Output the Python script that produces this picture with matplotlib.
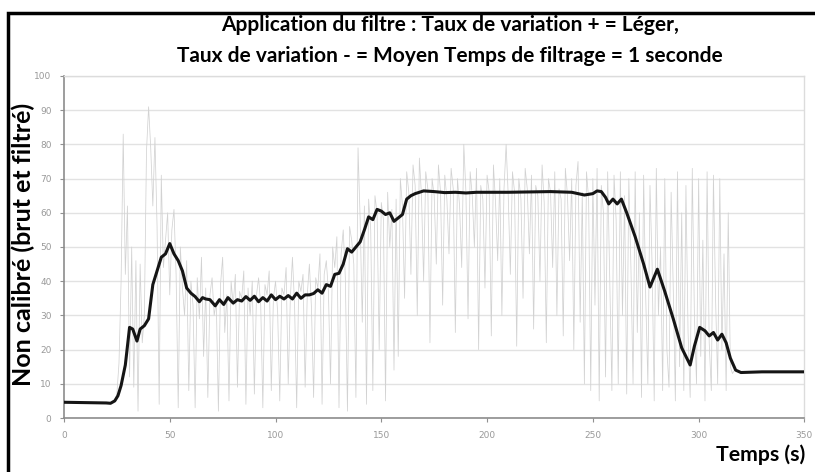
import numpy as np
import matplotlib
matplotlib.use('Agg')
import matplotlib.pyplot as plt
from matplotlib.patches import Rectangle

# raw signal, one sample per second from t = 24 s to t = 317 s
raw_start = 24
raw_values = [
    5, 7, 16, 40, 83, 42,
    62, 12, 50, 9, 46, 2, 45, 22, 30, 78,
    91, 79, 62, 82, 56, 4, 71, 44, 52, 60,
    36, 55, 61, 42, 3, 50, 38, 30, 46, 8,
    40, 33, 3, 41, 29, 47, 18, 38, 6, 36,
    41, 30, 34, 2, 39, 47, 25, 36, 5, 40,
    33, 42, 9, 37, 35, 43, 4, 38, 30, 40,
    7, 36, 41, 33, 3, 39, 36, 43, 8, 35,
    40, 31, 5, 38, 36, 44, 10, 35, 47, 33,
    3, 40, 37, 42, 9, 36, 45, 32, 6, 41,
    38, 48, 4, 42, 46, 37, 10, 50, 44, 53,
    3, 48, 55, 41, 2, 56, 52, 45, 6, 79,
    58, 28, 62, 4, 64, 55, 8, 65, 60, 20,
    63, 58, 5, 66, 50, 61, 14, 64, 18, 70,
    62, 35, 72, 66, 42, 74, 68, 30, 76, 65,
    40, 72, 67, 22, 70, 65, 45, 74, 66, 33,
    71, 64, 48, 73, 67, 25, 70, 62, 44, 80,
    66, 29, 72, 65, 50, 73, 20, 68, 64, 38,
    71, 66, 24, 74, 63, 46, 70, 30, 67, 80,
    65, 42, 72, 66, 21, 70, 64, 35, 73, 67,
    48, 71, 26, 68, 65, 40, 74, 63, 22, 70,
    66, 44, 72, 30, 67, 64, 24, 73, 65, 46,
    70, 20, 68, 75, 28, 66, 10, 72, 64, 8,
    70, 33, 73, 5, 68, 60, 12, 72, 40, 8,
    71, 58, 10, 72, 30, 65, 7, 70, 44, 10,
    72, 25, 60, 6, 71, 35, 10, 68, 45, 5,
    73, 30, 50, 8, 70, 20, 9, 66, 38, 5,
    72, 15, 60, 8, 68, 25, 6, 73, 30, 10,
    70, 18, 52, 5, 72, 22, 8, 71, 35, 10,
    70, 20, 48, 8, 60, 15, 13, 14,
]

# filtered signal
filt_t = [0, 10, 20, 22, 24, 25.5, 27, 29, 31, 32.5, 34.5, 36, 38, 40, 42, 44,
          46, 48, 50, 52, 54, 56, 58, 60, 62, 64, 65.5, 67, 69, 71.5, 73.5,
          75.5, 77.5, 80, 82, 84, 86, 88, 90, 92, 94, 96, 98, 100, 102, 104,
          106, 108, 110, 112, 114, 116, 118, 120, 122, 124, 126, 128, 130,
          132, 134, 136, 138, 140, 142, 144, 146, 148, 150, 152, 154, 156,
          158, 160, 162, 164, 166, 170, 175, 180, 185, 190, 195, 200, 210,
          220, 230, 240, 246, 250, 252, 254, 256, 257.5, 259.5, 261.5, 263.5,
          266, 270, 274, 277, 280.5, 284, 288, 292, 296, 298, 300.5, 303,
          305, 307, 309, 311, 313, 315, 317.5, 320, 330, 350]
filt_v = [4.6, 4.5, 4.4, 4.3, 5.0, 6.5, 9.5, 15.5, 26.5, 26, 22.5, 26, 27, 29,
          39, 43, 47, 48, 51, 48, 46, 43, 38, 36.5, 35.5, 34, 35.2, 34.8, 34.6,
          32.8, 34.6, 33.2, 35.2, 33.6, 34.6, 34.2, 35.5, 34.4, 35.6, 34, 35.2,
          34.2, 36, 34.6, 35.6, 34.8, 35.8, 34.8, 36.5, 35, 36, 36, 36.4, 37.5,
          36.5, 39, 38.5, 42, 42.3, 45, 49.5, 48.5, 50, 51.5, 55, 58.8, 58, 61,
          60.5, 59.5, 60, 57.5, 58.5, 59.5, 64, 65, 65.6, 66.4, 66.2, 65.9, 66,
          65.8, 66, 66, 66, 66.1, 66.2, 66, 65.2, 65.6, 66.4, 66.2, 64.5, 62.6,
          64, 62.6, 64, 60, 53, 45, 38.3, 43.5, 37, 29, 20.5, 15.5, 21, 26.5,
          25.5, 24, 25, 22.8, 24.5, 22, 17.5, 14, 13.3, 13.5, 13.5]

title = "Application du filtre : Taux de variation + = Léger,\nTaux de variation - = Moyen Temps de filtrage = 1 seconde"
x_ticks = [0, 50, 100, 150, 200, 250, 300, 350]
y_ticks = [0, 10, 20, 30, 40, 50, 60, 70, 80, 90, 100]

font = ['Lato', 'DejaVu Sans']

fig = plt.figure(figsize=(8.15, 4.72), dpi=100)
ax = fig.add_axes([0.0785, 0.1144, 0.9085, 0.7246])

raw_t = np.arange(raw_start, raw_start + len(raw_values))
ax.plot(raw_t, raw_values, color='#d2d2d2', linewidth=0.55, zorder=2)
ax.plot(filt_t, filt_v, color='#151515', linewidth=2.2, zorder=3)

ax.set_xlim(0, 350)
ax.set_ylim(0, 100)
ax.set_xticks(x_ticks)
ax.set_yticks(y_ticks)
ax.tick_params(labelsize=6.5, labelcolor='#999999', color='#909090',
               length=3, width=0.8, pad=6)
ax.grid(axis='y', color='#e2e2e2', linewidth=1.0, zorder=0)
ax.set_axisbelow(True)
for s in ['left', 'bottom']:
    ax.spines[s].set_color('#8c8c8c')
    ax.spines[s].set_linewidth(1.2)
for s in ['top', 'right']:
    ax.spines[s].set_color('#dcdcdc')
    ax.spines[s].set_linewidth(1.0)

fig.text(0.552, 0.915, title, ha='center', va='center', fontsize=15.0,
         fontweight='bold', family=font, linespacing=1.68)
fig.text(0.029, 0.483, "Non calibré (brut et filtré)", rotation=90,
         ha='center', va='center', fontsize=18, fontweight='bold', family=font)
fig.text(0.988, 0.036, "Temps (s)", ha='right', va='center', fontsize=15.3,
         fontweight='bold', family=font)

# black frame around the chart
fig.patches.append(Rectangle((0.01, -0.01), 1.0, 0.982, transform=fig.transFigure,
                             fill=False, edgecolor='black', linewidth=2.5))

fig.savefig('out.png', dpi=100)
